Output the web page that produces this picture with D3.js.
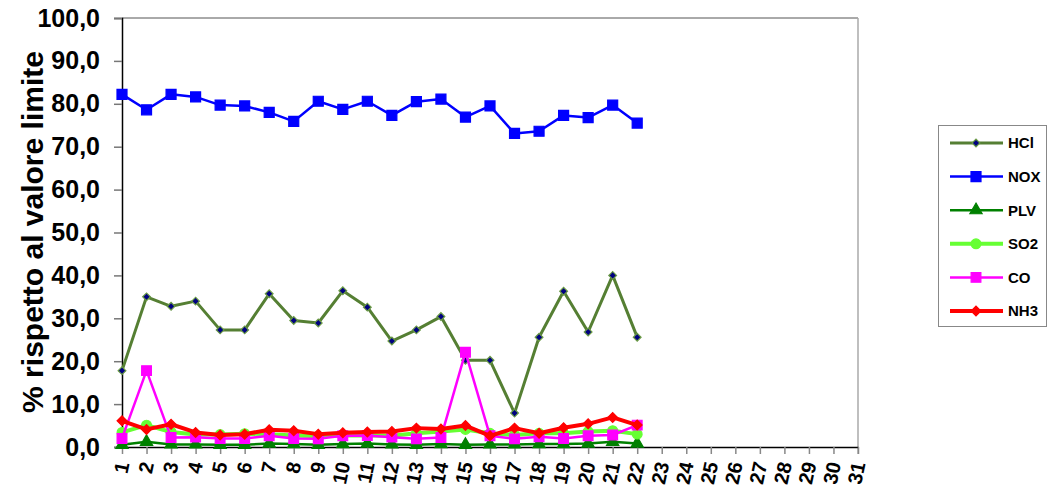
<!DOCTYPE html>
<html>
<head>
<meta charset="utf-8">
<script src="https://cdn.jsdelivr.net/npm/d3@7"></script>
<style>
  body { margin: 0; background: #ffffff; }
  text { font-family: "Liberation Sans", Arial, sans-serif; font-weight: bold; }
</style>
</head>
<body>
<svg width="1048" height="490"></svg>
<script>
// Data, days 1..31, values for days 1..22.
const days = d3.range(1, 32);
const yTicks = [0, 10, 20, 30, 40, 50, 60, 70, 80, 90, 100];
const seriesNames = ["HCl", "NOX", "PLV", "SO2", "CO", "NH3"];

const hcl = [17.8, 35.0, 32.8, 34.0, 27.3, 27.3, 35.7, 29.5, 28.9, 36.4, 32.6, 24.7,
             27.3, 30.4, 20.2, 20.2, 7.9, 25.6, 36.3, 26.8, 40.0, 25.6];
const nox = [82.2, 78.6, 82.2, 81.6, 79.7, 79.5, 78.0, 75.9, 80.6, 78.7, 80.6, 77.3,
             80.5, 81.1, 76.9, 79.5, 73.1, 73.6, 77.3, 76.8, 79.7, 75.5];
const plv = [0.5, 1.2, 0.6, 0.6, 0.5, 0.5, 0.8, 0.7, 0.5, 0.7, 0.8, 0.6,
             0.5, 0.7, 0.5, 0.6, 0.6, 0.7, 0.7, 0.8, 1.2, 0.8];
const so2 = [3.4, 5.1, 3.5, 2.9, 2.9, 3.1, 3.0, 2.7, 2.5, 2.7, 2.7, 2.6,
             3.2, 3.6, 4.1, 3.2, 2.8, 3.2, 3.2, 3.6, 3.8, 3.0];
const co  = [2.0, 17.8, 2.2, 2.3, 2.0, 2.0, 2.6, 2.0, 1.9, 2.6, 2.7, 2.3,
             1.9, 2.2, 22.1, 2.6, 1.9, 2.4, 2.0, 2.6, 2.8, 5.1];
const nh3 = [6.1, 4.1, 5.3, 3.4, 2.8, 3.0, 4.0, 3.8, 3.0, 3.3, 3.5, 3.6,
             4.4, 4.2, 5.0, 2.6, 4.4, 3.2, 4.5, 5.4, 6.9, 5.1];

// SVG plotting related variables.
const svg = d3.select("svg");
const width = +svg.attr("width");
const height = +svg.attr("height");
const plot = { left: 122, right: 858, top: 18, bottom: 447 };

// Scales
const xScale = d3.scalePoint()
                 .domain(days)
                 .range([plot.left, plot.right]);
const yScale = d3.scaleLinear()
                 .domain([0, 100])
                 .range([plot.bottom, plot.top]);

// Plot frame (top and right edges)
svg.append("line")
   .attr("x1", plot.left).attr("x2", plot.right)
   .attr("y1", plot.top).attr("y2", plot.top)
   .style("stroke", "#555").style("stroke-width", 1);
svg.append("line")
   .attr("x1", plot.right).attr("x2", plot.right)
   .attr("y1", plot.top).attr("y2", plot.bottom + 7)
   .style("stroke", "#aaa").style("stroke-width", 1.5);

// Y Axis
const yAxis = svg.append("g")
                 .attr("class", "y-axis")
                 .attr("transform", `translate(${plot.left}, 0)`)
                 .call(d3.axisLeft(yScale)
                         .tickValues(yTicks)
                         .tickSize(8)
                         .tickPadding(14)
                         .tickFormat(d => d3.format(".1f")(d).replace(".", ",")));
yAxis.select(".domain").style("stroke", "#000").style("stroke-width", 1.5);
yAxis.selectAll("line").style("stroke", "#777").style("stroke-width", 1.5);
yAxis.selectAll("text")
     .style("font-size", "25px")
     .style("fill", "#000");

// X Axis
const xAxis = svg.append("g")
                 .attr("class", "x-axis")
                 .attr("transform", `translate(0, ${plot.bottom})`)
                 .call(d3.axisBottom(xScale).tickSize(7).tickSizeOuter(0));
xAxis.select(".domain").style("stroke", "#000").style("stroke-width", 1.5);
xAxis.selectAll("line").style("stroke", "#888").style("stroke-width", 1.5);
xAxis.selectAll("text")
     .attr("x", 0)
     .attr("y", 0)
     .attr("dy", "0.36em")
     .attr("transform", "translate(0, 15) rotate(-78)")
     .style("text-anchor", "end")
     .style("font-size", "20px")
     .style("fill", "#000");

// Y title
svg.append("text")
   .attr("transform", "translate(43, 232) rotate(-90)")
   .attr("text-anchor", "middle")
   .style("font-size", "30px")
   .text("% rispetto al valore limite");

// Series styles (diamonds are squares rotated by 45 degrees)
const styles = {
    HCl: { values: hcl, color: "#557f33", width: 3, marker: d3.symbolSquare, rot: 45, size: 30, fill: "#000080", stroke: "#6a9a45" },
    NOX: { values: nox, color: "#0000ff", width: 2.5, marker: d3.symbolSquare, rot: 0, size: 100, fill: "#0000ff", stroke: "#0000ff" },
    PLV: { values: plv, color: "#008000", width: 2.5, marker: d3.symbolTriangle, rot: 0, size: 65, fill: "#008000", stroke: "#008000" },
    SO2: { values: so2, color: "#66ff33", width: 4, marker: d3.symbolCircle, rot: 0, size: 75, fill: "#66ff33", stroke: "#66ff33" },
    CO:  { values: co,  color: "#ff00ff", width: 2.5, marker: d3.symbolSquare, rot: 0, size: 95, fill: "#ff00ff", stroke: "#ff00ff" },
    NH3: { values: nh3, color: "#ff0000", width: 4, marker: d3.symbolSquare, rot: 45, size: 48, fill: "#ff0000", stroke: "#ff0000" }
};

const line = d3.line().x(d => xScale(d.day)).y(d => yScale(d.v));

seriesNames.forEach(name => {
    const s = styles[name];
    const pts = s.values.map((v, i) => ({ day: days[i], v }));
    const g = svg.append("g");
    g.append("path")
     .datum(pts)
     .attr("d", line)
     .attr("fill", "none")
     .attr("stroke", s.color)
     .attr("stroke-width", s.width)
     .attr("stroke-linejoin", "round");
    g.selectAll("path.marker")
     .data(pts)
     .enter()
     .append("path")
     .attr("class", "marker")
     .attr("transform", d => `translate(${xScale(d.day)},${yScale(d.v)}) rotate(${s.rot})`)
     .attr("d", d3.symbol().type(s.marker).size(s.size))
     .attr("fill", s.fill)
     .attr("stroke", s.stroke)
     .attr("stroke-width", 1.2);
});

// Legend
const legend = svg.append("g");
legend.append("rect")
      .attr("x", 938.5).attr("y", 125.5)
      .attr("width", 108).attr("height", 201)
      .attr("fill", "#fff")
      .attr("stroke", "#888")
      .attr("stroke-width", 1);

seriesNames.forEach((name, i) => {
    const s = styles[name];
    const y = 143 + i * 33.6;
    legend.append("line")
          .attr("x1", 950).attr("x2", 1003)
          .attr("y1", y).attr("y2", y)
          .attr("stroke", s.color)
          .attr("stroke-width", s.width);
    legend.append("path")
          .attr("transform", `translate(976,${y}) rotate(${s.rot})`)
          .attr("d", d3.symbol().type(s.marker).size(s.size))
          .attr("fill", s.fill)
          .attr("stroke", s.stroke)
          .attr("stroke-width", 1.2);
    legend.append("text")
          .attr("x", 1008).attr("y", y)
          .attr("dy", "0.36em")
          .style("font-size", "15px")
          .text(name);
});
</script>
</body>
</html>
